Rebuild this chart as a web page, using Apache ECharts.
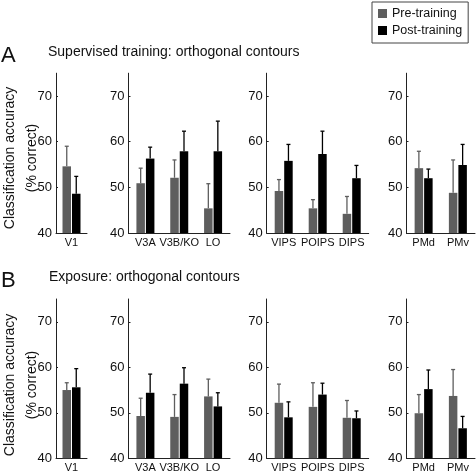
<!DOCTYPE html>
<html><head><meta charset="utf-8">
<script src="https://cdn.jsdelivr.net/npm/echarts@6/dist/echarts.min.js"></script>
<style>html,body{margin:0;padding:0;background:#fff}#c{width:476px;height:474px}</style>
</head><body><div id="c"></div>
<script>
// ---- data ----
const panelV = ['V1'];
const panelEarly = ['V3A', 'V3B/KO', 'LO'];
const panelIPS = ['VIPS', 'POIPS', 'DIPS'];
const panelPM = ['PMd', 'PMv'];
const yTicks = [40, 50, 60, 70];
// order: V1, V3A, V3B/KO, LO, VIPS, POIPS, DIPS, PMd, PMv
const supPre      = [54.6, 50.9, 52.1, 45.4, 49.2, 45.4, 44.2, 54.2, 48.8];
const supPreErr   = [4.4, 3.3, 3.9, 5.4, 2.5, 1.9, 3.8, 3.7, 7.2];
const supPost     = [48.6, 56.3, 57.9, 57.9, 55.8, 57.3, 52.0, 52.0, 54.9];
const supPostErr  = [3.8, 2.5, 4.4, 6.6, 3.6, 5.0, 2.8, 2.0, 4.5];
const expPre      = [55.0, 49.3, 49.1, 53.6, 52.2, 51.3, 48.9, 49.9, 53.7];
const expPreErr   = [1.6, 3.9, 4.9, 3.8, 4.1, 5.3, 3.8, 4.1, 5.8];
const expPost     = [55.6, 54.4, 56.4, 51.4, 49.0, 54.0, 48.8, 55.2, 46.6];
const expPostErr  = [4.1, 4.1, 3.5, 3.0, 3.4, 2.5, 1.6, 4.2, 2.6];

// ---- layout / style ----
const panels = [panelV, panelEarly, panelIPS, panelPM];
const rowsData = [
  [supPre, supPreErr, supPost, supPostErr],
  [expPre, expPreErr, expPost, expPostErr]
];
const GRAY = '#5e5e5e', BLACK = '#000';
const FONT = 'Liberation Sans, Arial, sans-serif';
const NARROW = "'Liberation Sans Narrow', 'Arial Narrow', 'Liberation Sans', sans-serif";
const gridLeft = [56, 128.5, 266.7, 406.5];
const gridWidth = [31, 101.5, 102, 68.5];
const rowTop = [73.2, 299];
const rowHeight = [159.8, 159.3];
const BW = 8.5, GAPPX = 1;
const OFF = (BW + GAPPX) / 2;

function errRender(offset, color) {
  return function (params, api) {
    const c = api.value(0);
    const p0 = api.coord([c, api.value(1)]);
    const p1 = api.coord([c, api.value(2)]);
    const x = p0[0] + offset;
    return {
      type: 'group', children: [
        { type: 'line', shape: { x1: x, y1: p0[1], x2: x, y2: p1[1] }, style: { stroke: color, lineWidth: 1.3 } },
        { type: 'line', shape: { x1: x - 2, y1: p1[1], x2: x + 2, y2: p1[1] }, style: { stroke: color, lineWidth: 1.3 } }
      ]
    };
  };
}

const grids = [], xAxes = [], yAxes = [], series = [];
rowsData.forEach((rd, r) => {
  const [pre, preErr, post, postErr] = rd;
  let start = 0;
  panels.forEach((cats, p) => {
    const idx = grids.length;
    grids.push({ left: gridLeft[p], width: gridWidth[p], top: rowTop[r], height: rowHeight[r], containLabel: false });
    xAxes.push({
      type: 'category', gridIndex: idx, data: cats,
      axisLine: { show: true, lineStyle: { color: '#222', width: 1 } },
      axisTick: { show: false },
      axisLabel: { interval: 0, margin: 4, fontSize: 11, color: '#111', fontFamily: NARROW }
    });
    yAxes.push({
      type: 'value', gridIndex: idx, min: 40, max: 75,
      axisLine: { show: true, lineStyle: { color: '#222', width: 1 } },
      axisTick: { show: true, inside: true, length: 2, customValues: yTicks, lineStyle: { color: '#222' } },
      axisLabel: { customValues: yTicks, margin: 4, fontSize: 13, color: '#111', fontFamily: NARROW },
      splitLine: { show: false }
    });
    const n = cats.length;
    const preV = pre.slice(start, start + n), postV = post.slice(start, start + n);
    const preE = preErr.slice(start, start + n), postE = postErr.slice(start, start + n);
    series.push({ type: 'bar', name: 'Pre-training', xAxisIndex: idx, yAxisIndex: idx, data: preV,
      barWidth: BW, barGap: (GAPPX / BW * 100) + '%', itemStyle: { color: GRAY }, animation: false });
    series.push({ type: 'bar', name: 'Post-training', xAxisIndex: idx, yAxisIndex: idx, data: postV,
      barWidth: BW, barGap: (GAPPX / BW * 100) + '%', itemStyle: { color: BLACK }, animation: false });
    series.push({ type: 'custom', name: 'errPre', xAxisIndex: idx, yAxisIndex: idx,
      data: preV.map((v, i) => [i, v, v + preE[i]]), encode: { x: 0, y: [1, 2] },
      renderItem: errRender(-OFF, GRAY), animation: false, z: 3 });
    series.push({ type: 'custom', name: 'errPost', xAxisIndex: idx, yAxisIndex: idx,
      data: postV.map((v, i) => [i, v, v + postE[i]]), encode: { x: 0, y: [1, 2] },
      renderItem: errRender(OFF, BLACK), animation: false, z: 3 });
    start += n;
  });
});

const txt = (text, x, y, size, extra) => Object.assign({
  type: 'text', x: x, y: y,
  style: { text: text, fontSize: size, fontFamily: FONT, fill: '#111', align: 'left', verticalAlign: 'middle' }
}, extra || {});

const graphics = [
  txt('A', 1, 56, 22),
  txt('Supervised training: orthogonal contours', 48, 52, 14),
  txt('B', 1, 281, 22),
  txt('Exposure: orthogonal contours', 49, 277, 14)
];
[158, 385].forEach(cy => {
  graphics.push({ type: 'text', x: 10, y: cy, rotation: Math.PI / 2,
    style: { text: 'Classification accuracy', fontSize: 14, fontFamily: FONT, fill: '#111', align: 'center', verticalAlign: 'middle' } });
  graphics.push({ type: 'text', x: 32, y: cy, rotation: Math.PI / 2,
    style: { text: '(% correct)', fontSize: 14, fontFamily: FONT, fill: '#111', align: 'center', verticalAlign: 'middle' } });
});

const chart = echarts.init(document.getElementById('c'), null, { renderer: 'canvas' });
chart.setOption({
  animation: false,
  backgroundColor: '#fff',
  grid: grids, xAxis: xAxes, yAxis: yAxes, series: series,
  legend: {
    data: ['Pre-training', 'Post-training'], orient: 'vertical', left: 372, top: 2,
    padding: [4, 6, 5, 6], itemWidth: 9, itemHeight: 9, itemGap: 2, icon: 'rect',
    borderColor: '#444', borderWidth: 1, selectedMode: false,
    textStyle: { fontSize: 12.5, fontFamily: FONT, color: '#111', lineHeight: 15 }
  },
  graphic: graphics
});
</script></body></html>
